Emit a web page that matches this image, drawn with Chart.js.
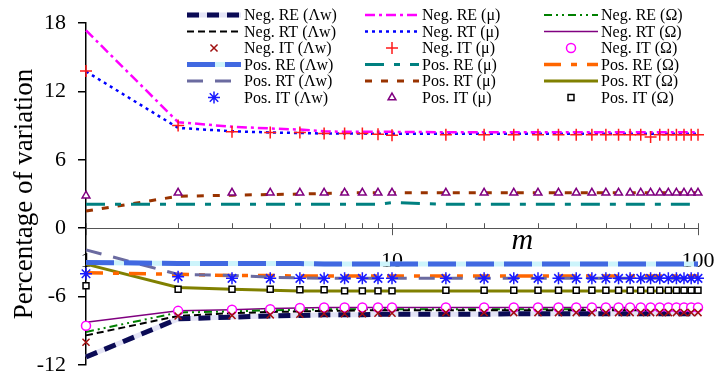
<!DOCTYPE html>
<html>
<head>
<meta charset="utf-8">
<script src="https://cdn.jsdelivr.net/npm/chart.js"></script>
<style>
  html, body { margin: 0; padding: 0; background: #fff; }
  #wrap { width: 716px; height: 379px; }
</style>
</head>
<body>
<div id="wrap"><canvas id="chart" width="716" height="379"></canvas></div>
<script>
// m values on the log axis
const mValues = [1, 2, 3, 4, 5, 6, 7, 8, 9, 10, 15, 20, 25, 30, 35, 40, 45, 50, 55, 60, 65, 70, 75, 80, 85, 90, 95, 100];
const xTickLabels = [1, 10, 100];
const yTicks = [-12, -6, 0, 6, 12, 18];

// Λw series
const negReLw = [-11.3, -7.95, -7.8, -7.7, -7.65, -7.6, -7.6, -7.6, -7.55, -7.55, -7.55, -7.55, -7.5, -7.5, -7.5, -7.5, -7.5, -7.5, -7.5, -7.5, -7.5, -7.5, -7.5, -7.5, -7.5, -7.5, -7.5, -7.5];
const negRtLw = [-9.4, -7.7, -7.45, -7.35, -7.3, -7.25, -7.25, -7.2, -7.2, -7.2, -7.2, -7.2, -7.2, -7.2, -7.2, -7.2, -7.2, -7.2, -7.2, -7.2, -7.2, -7.2, -7.2, -7.2, -7.2, -7.2, -7.2, -7.2];
const negItLw = [-10.0, -7.7, -7.65, -7.6, -7.55, -7.5, -7.5, -7.5, -7.45, -7.45, -7.4, -7.4, -7.4, -7.4, -7.4, -7.4, -7.4, -7.4, -7.4, -7.4, -7.4, -7.4, -7.4, -7.4, -7.4, -7.4, -7.4, -7.4];
const posReLw = [-3.0, -3.1, -3.1, -3.1, -3.1, -3.15, -3.15, -3.15, -3.15, -3.15, -3.15, -3.15, -3.15, -3.15, -3.15, -3.15, -3.15, -3.15, -3.15, -3.15, -3.15, -3.15, -3.15, -3.15, -3.15, -3.15, -3.15, -3.15];
const posRtLw = [-1.9, -4.05, -4.15, -4.3, -4.35, -4.4, -4.4, -4.4, -4.4, -4.4, -4.4, -4.4, -4.4, -4.4, -4.4, -4.4, -4.4, -4.4, -4.4, -4.4, -4.4, -4.4, -4.4, -4.4, -4.4, -4.4, -4.4, -4.4];
const posItLw = [-4.0, -4.25, -4.4, -4.4, -4.4, -4.4, -4.4, -4.4, -4.4, -4.4, -4.4, -4.4, -4.4, -4.4, -4.4, -4.4, -4.4, -4.4, -4.4, -4.4, -4.4, -4.4, -4.4, -4.4, -4.4, -4.4, -4.4, -4.4];

// μ series
const negReMu = [17.35, 9.3, 8.9, 8.75, 8.65, 8.5, 8.45, 8.45, 8.45, 8.45, 8.42, 8.42, 8.42, 8.42, 8.42, 8.42, 8.42, 8.42, 8.42, 8.42, 8.42, 8.42, 8.42, 8.42, 8.42, 8.42, 8.42, 8.42];
const negRtMu = [13.75, 8.8, 8.5, 8.4, 8.35, 8.3, 8.3, 8.3, 8.28, 8.28, 8.28, 8.28, 8.28, 8.28, 8.28, 8.28, 8.28, 8.28, 8.28, 8.28, 8.28, 8.28, 8.28, 8.28, 8.28, 8.28, 8.28, 8.28];
const negItMu = [13.8, 9.0, 8.45, 8.4, 8.4, 8.3, 8.3, 8.3, 8.25, 8.15, 8.2, 8.2, 8.2, 8.2, 8.2, 8.2, 8.2, 8.2, 8.2, 8.2, 8.2, 8.0, 8.2, 8.2, 8.2, 8.2, 8.2, 8.2];
const posReMu = [2.1, 2.1, 2.1, 2.1, 2.1, 2.1, 2.1, 2.1, 2.1, 2.25, 2.1, 2.1, 2.1, 2.1, 2.1, 2.1, 2.1, 2.1, 2.1, 2.1, 2.1, 2.1, 2.1, 2.1, 2.1, 2.1, 2.1, 2.1];
const posRtMu = [1.5, 2.8, 2.9, 2.95, 3.0, 3.05, 3.1, 3.1, 3.1, 3.1, 3.1, 3.1, 3.1, 3.1, 3.1, 3.1, 3.1, 3.1, 3.1, 3.1, 3.1, 3.1, 3.1, 3.1, 3.1, 3.1, 3.1, 3.1];
const posItMu = [2.85, 3.1, 3.1, 3.1, 3.1, 3.1, 3.1, 3.1, 3.1, 3.1, 3.1, 3.1, 3.1, 3.1, 3.1, 3.1, 3.1, 3.1, 3.1, 3.1, 3.1, 3.1, 3.1, 3.1, 3.1, 3.1, 3.1, 3.1];

// Ω series
const negReOm = [-9.1, -7.4, -7.3, -7.2, -7.15, -7.1, -7.1, -7.1, -7.1, -7.1, -7.1, -7.1, -7.1, -7.1, -7.1, -7.1, -7.1, -7.1, -7.1, -7.1, -7.1, -7.1, -7.1, -7.1, -7.1, -7.1, -7.1, -7.1];
const negRtOm = [-8.25, -7.25, -7.15, -7.05, -7.0, -6.95, -6.95, -6.95, -6.95, -6.95, -6.95, -6.95, -6.95, -6.95, -6.95, -6.95, -6.95, -6.95, -6.95, -6.95, -6.95, -6.95, -6.95, -6.95, -6.95, -6.95, -6.95, -6.95];
const negItOm = [-8.55, -7.25, -7.15, -7.1, -7.0, -6.95, -6.95, -6.95, -6.95, -6.95, -6.95, -6.95, -6.95, -6.95, -6.95, -6.95, -6.95, -6.95, -6.95, -6.95, -6.95, -6.95, -6.95, -6.95, -6.95, -6.95, -6.95, -6.95];
const posReOm = [-3.9, -4.05, -4.15, -4.15, -4.2, -4.2, -4.2, -4.2, -4.2, -4.2, -4.2, -4.2, -4.2, -4.2, -4.2, -4.2, -4.2, -4.2, -4.2, -4.2, -4.2, -4.2, -4.2, -4.2, -4.2, -4.2, -4.2, -4.2];
const posRtOm = [-3.15, -5.2, -5.35, -5.45, -5.5, -5.5, -5.5, -5.5, -5.5, -5.5, -5.5, -5.5, -5.5, -5.5, -5.5, -5.5, -5.5, -5.5, -5.5, -5.5, -5.5, -5.5, -5.5, -5.5, -5.5, -5.5, -5.5, -5.5];
const posItOm = [-5.05, -5.35, -5.35, -5.35, -5.4, -5.4, -5.5, -5.5, -5.5, -5.5, -5.45, -5.45, -5.45, -5.45, -5.45, -5.45, -5.45, -5.45, -5.45, -5.45, -5.45, -5.45, -5.45, -5.45, -5.45, -5.45, -5.45, -5.45];

const pts = ys => ys.map((v, i) => ({ x: mValues[i], y: v }));

function line(label, ys, color, width, dash, extra) {
  return Object.assign({
    label, data: pts(ys), borderColor: color, backgroundColor: color,
    borderWidth: width, borderDash: dash, pointRadius: 0, tension: 0,
    clip: false, order: 0
  }, extra || {});
}
function marks(label, ys, color, style, radius, fill) {
  return {
    label, data: pts(ys), showLine: false, borderColor: color,
    backgroundColor: fill || color, pointStyle: style, pointRadius: radius,
    pointBorderWidth: 1.5, clip: false, order: -1
  };
}

// legend order: column by column (Λw, μ, Ω)
const series = [
  line('Neg. RE (Λw)', negReLw, '#0b0b55', 5, [12, 8], { shadowColor: '#e4e4f6' }),
  line('Neg. RT (Λw)', negRtLw, '#000000', 2, [7, 4]),
  marks('Neg. IT (Λw)', negItLw, '#a01010', 'crossRot', 5),
  line('Pos. RE (Λw)', posReLw, '#4169e1', 5, [28, 10], { shadowColor: '#cdf4fb' }),
  line('Pos. RT (Λw)', posRtLw, '#6b6ba0', 3, [16, 12]),
  marks('Pos. IT (Λw)', posItLw, '#1a1aff', 'star', 6),

  line('Neg. RE (μ)', negReMu, '#ff00ff', 2.5, [10, 4, 3, 4]),
  line('Neg. RT (μ)', negRtMu, '#0000ff', 2.5, [3, 4]),
  marks('Neg. IT (μ)', negItMu, '#ff1a1a', 'cross', 6),
  line('Pos. RE (μ)', posReMu, '#008080', 3, [19, 10, 6, 10]),
  line('Pos. RT (μ)', posRtMu, '#993300', 3, [7, 9]),
  marks('Pos. IT (μ)', posItMu, '#800080', 'triangle', 4.5, '#ffffff'),

  line('Neg. RE (Ω)', negReOm, '#008000', 2, [8, 4, 2, 4, 2, 4]),
  line('Neg. RT (Ω)', negRtOm, '#800080', 1.5, []),
  marks('Neg. IT (Ω)', negItOm, '#ff00ff', 'circle', 4.5, '#ffffff'),
  line('Pos. RE (Ω)', posReOm, '#ff6600', 3.5, [17, 10, 6, 10]),
  line('Pos. RT (Ω)', posRtOm, '#808000', 3, []),
  marks('Pos. IT (Ω)', posItOm, '#000000', 'rect', 4.2, '#ffffff')
];

// light under-strokes for the two banded lines
const underlays = series.filter(s => s.shadowColor).map(s => ({
  label: '', data: s.data, borderColor: s.shadowColor, borderWidth: s.borderWidth,
  pointRadius: 0, tension: 0, clip: false, order: 1, underlay: true
}));

const SERIF = '"Liberation Serif", "Times New Roman", serif';

const gridLegend = {
  id: 'gridLegend',
  afterDraw(chart) {
    const ctx = chart.ctx;
    const colX = [187, 365, 544];
    const rowY = [15, 31.5, 48, 64.5, 81, 97.5];
    const sampleW = 54;
    ctx.save();
    series.forEach((ds, k) => {
      const x0 = colX[Math.floor(k / 6)], y = rowY[k % 6];
      if (ds.showLine === false) {
        ctx.setLineDash([]);
        ctx.strokeStyle = ds.borderColor;
        ctx.fillStyle = ds.backgroundColor;
        ctx.lineWidth = ds.pointBorderWidth;
        Chart.helpers.drawPoint(ctx, {
          pointStyle: ds.pointStyle, radius: ds.pointRadius,
          borderWidth: ds.pointBorderWidth, rotation: 0
        }, x0 + sampleW / 2, y);
      } else {
        if (ds.shadowColor) {
          ctx.setLineDash([]);
          ctx.strokeStyle = ds.shadowColor;
          ctx.lineWidth = ds.borderWidth;
          ctx.beginPath(); ctx.moveTo(x0, y); ctx.lineTo(x0 + sampleW, y); ctx.stroke();
        }
        ctx.setLineDash(ds.borderDash);
        ctx.strokeStyle = ds.borderColor;
        ctx.lineWidth = ds.borderWidth;
        ctx.beginPath(); ctx.moveTo(x0, y); ctx.lineTo(x0 + sampleW, y); ctx.stroke();
      }
      ctx.setLineDash([]);
      ctx.fillStyle = '#000';
      ctx.font = '16px ' + SERIF;
      ctx.textBaseline = 'middle';
      ctx.textAlign = 'left';
      ctx.fillText(ds.label, x0 + sampleW + 3, y + 1);
    });
    ctx.restore();
  }
};

// tick marks and labels of the x axis (which sits at y = 0), plus the italic m
const xAxisMarks = {
  id: 'xAxisMarks',
  beforeDatasetsDraw(chart) {
    const ctx = chart.ctx, xs = chart.scales.x;
    const y0 = chart.scales.y.getPixelForValue(0);
    ctx.save();
    ctx.strokeStyle = '#555';
    ctx.lineWidth = 1;
    ctx.beginPath();
    xs.ticks.forEach(t => {
      const px = Math.round(xs.getPixelForValue(t.value)) + 0.5;
      const major = xTickLabels.includes(t.value);
      ctx.moveTo(px, y0 - 5);
      ctx.lineTo(px, y0 + (major ? 7 : 0));
    });
    ctx.stroke();
    ctx.fillStyle = '#000';
    ctx.textAlign = 'center';
    ctx.textBaseline = 'middle';
    ctx.font = '22px ' + SERIF;
    xTickLabels.forEach(v => ctx.fillText(String(v), xs.getPixelForValue(v), y0 + 33));
    const ca = chart.chartArea;
    ctx.font = 'italic 30px ' + SERIF;
    ctx.fillText('m', ca.left + 0.713 * (ca.right - ca.left), y0 + 13);
    ctx.restore();
  }
};

new Chart(document.getElementById('chart'), {
  type: 'line',
  data: { datasets: series.concat(underlays) },
  options: {
    responsive: false,
    animation: false,
    layout: { padding: { top: 23, right: 18, bottom: 14, left: 0 } },
    plugins: { legend: { display: false }, tooltip: { enabled: false } },
    scales: {
      x: {
        type: 'logarithmic', axis: 'x', position: { y: 0 },
        min: 1, max: 100,
        afterFit: s => {
          s.height = 0;
          s.paddingTop = 0; s.paddingBottom = 0; s.paddingLeft = 0; s.paddingRight = 0;
        },
        grid: { display: false, drawTicks: false },
        border: { display: true, color: '#555', width: 1 },
        ticks: { display: false, autoSkip: false }
      },
      y: {
        min: -12, max: 18,
        afterFit: s => {
          s.width = 86;
          s.paddingTop = 0; s.paddingBottom = 0;
        },
        afterBuildTicks: s => { s.ticks = yTicks.map(v => ({ value: v })); },
        grid: { drawOnChartArea: false, drawTicks: true, tickLength: 8, color: '#000', lineWidth: 1.5 },
        border: { display: true, color: '#000', width: 1.5 },
        ticks: { padding: 12, color: '#000', font: { family: SERIF, size: 22 } },
        title: {
          display: true, text: 'Percentage of variation', color: '#000',
          font: { family: SERIF, size: 27 }, padding: { top: 9, bottom: 0 }
        }
      }
    }
  },
  plugins: [gridLegend, xAxisMarks]
});
</script>
</body>
</html>
